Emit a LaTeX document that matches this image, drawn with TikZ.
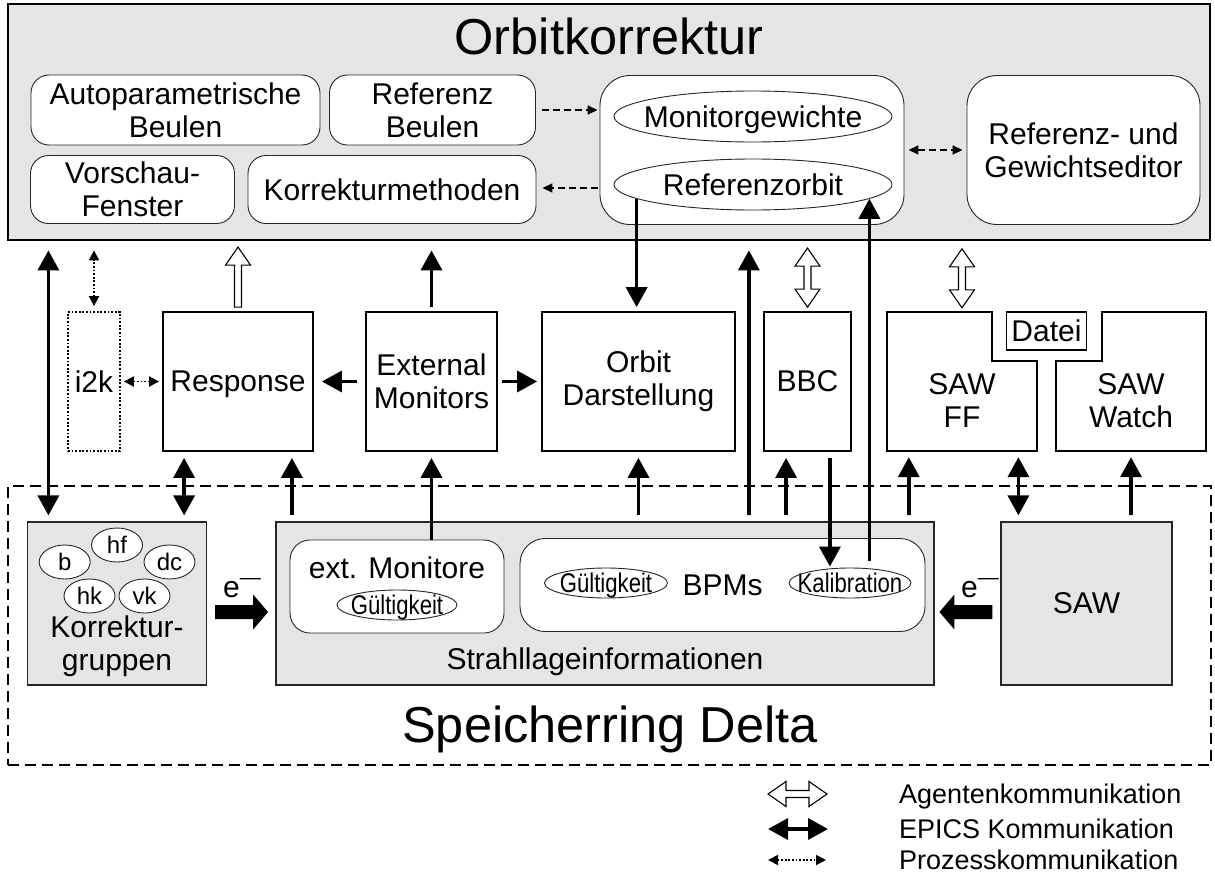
\documentclass[tikz,border=0pt]{standalone}
\usepackage{fontspec}
\setmainfont{Liberation Sans}
\newfontfamily\narrowsans[FakeStretch=0.82]{Liberation Sans}
\usetikzlibrary{arrows.meta,shapes.geometric}

\definecolor{panelgray}{gray}{0.9}

\tikzset{
    agentdouble/.pic={
        \draw[line width=1.1pt, fill=white] (0,0) -- (18,-12.5) -- (18,-3.5) -- (41,-3.5) -- (41,-12.5)
            -- (59,0) -- (41,12.5) -- (41,3.5) -- (18,3.5) -- (18,12.5) -- cycle;
    },
    agentsingle/.pic={
        \draw[line width=1.1pt, fill=white] (0,-3.5) -- (42,-3.5) -- (42,-12.5) -- (60,0)
            -- (42,12.5) -- (42,3.5) -- (0,3.5) -- cycle;
    },
    beam/.pic={
        \fill (0,-7) -- (38,-7) -- (38,-17.5) -- (53,0) -- (38,17.5) -- (38,7) -- (0,7) -- cycle;
    },
}

\begin{document}
\begin{tikzpicture}[x=1pt, y=-1pt,
        font=\fontsize{30}{33}\selectfont,
        every node/.style={inner sep=0pt, align=center},
        panel/.style={draw=black!85, line width=1.2pt, fill=panelgray},
        softbox/.style={draw=black!85, line width=0.9pt, fill=white, rounded corners=18pt},
        agentbox/.style={draw, line width=1.8pt, fill=white},
        oval/.style={draw=black!85, line width=0.9pt, fill=white, ellipse},
        small/.style={font=\fontsize{24}{26}\selectfont},
        narrow/.style={font=\narrowsans\fontsize{27}{29}\selectfont, text depth=0pt},
        legend/.style={anchor=base west, font=\fontsize{27}{30}\selectfont},
        epics/.style={line width=3.5pt, -{Triangle[width=21pt,length=20pt]}, shorten >=6pt, shorten <=6pt},
        epics both/.style={epics, {Triangle[width=21pt,length=20pt]}-{Triangle[width=21pt,length=20pt]}},
        prozess/.style={line width=1.8pt, dash pattern=on 1.8pt off 1.8pt,
            {Triangle[width=10pt,length=10pt]}-{Triangle[width=10pt,length=10pt]}, shorten >=5pt, shorten <=5pt},
        intern/.style={line width=1.5pt, dash pattern=on 7pt off 4pt, -{Triangle[width=9pt,length=10pt]}},
    ]
    \useasboundingbox (0,0) rectangle (1215,875);

    \node[panel, draw=black, line width=2.8pt, minimum width=1202pt, minimum height=236pt] (orbit) at (609,122) {};
    \node[font=\fontsize{50.5}{56}\selectfont, anchor=base] (orbittitle) at (609,55) {Orbitkorrektur};
    \node[softbox, minimum width=289pt, minimum height=70pt] (autobeulen) at (175.5,110) {Autoparametrische\\Beulen};
    \node[softbox, minimum width=206pt, minimum height=70pt] (refbeulen) at (432.5,110) {Referenz\\Beulen};
    \node[softbox, minimum width=204pt, minimum height=68pt] (vorschau) at (132.5,189.5) {Vorschau-\\Fenster};
    \node[softbox, minimum width=288pt, minimum height=68pt] (korrmeth) at (392,189.5) {Korrekturmethoden};
    \node[softbox, rounded corners=30pt, minimum width=304pt, minimum height=149pt] (daten) at (752,150) {};
    \node[oval, minimum width=278pt, minimum height=51pt, label={[text depth=0pt]center:Monitorgewichte}] (monw) at (753,116.5) {};
    \node[oval, minimum width=278pt, minimum height=51pt, label=center:Referenzorbit] (reforbit) at (753,184.5) {};
    \node[softbox, rounded corners=30pt, minimum width=233pt, minimum height=149pt] (editor) at (1083.5,150) {Referenz- und\\Gewichtseditor};

    \node[draw, line width=1.8pt, dash pattern=on 1.8pt off 1.8pt, minimum width=52pt, minimum height=139pt] (i2k) at (94,381.5) {i2k};
    \node[agentbox, text depth=0pt, minimum width=150pt, minimum height=139pt] (response) at (238,381.5) {Response};
    \node[agentbox, minimum width=131pt, minimum height=139pt] (extmon) at (431.5,381.5) {External\\Monitors};
    \node[agentbox, minimum width=193pt, minimum height=139pt] (orbitdar) at (638.5,381.5) {Orbit\\Darstellung};
    \node[agentbox, minimum width=87pt, minimum height=139pt] (bbc) at (807.5,381.5) {BBC};
    \node[minimum width=150pt, minimum height=139pt] (sawff) at (962,381.5) {};
    \node[minimum width=150pt, minimum height=139pt] (sawwatch) at (1131,381.5) {};
    \draw[line width=1.8pt, fill=white] (sawff.north west) -- ([xshift=-45pt]sawff.north east) -- ++(0,49) -- ++(45,0)
        -- (sawff.south east) -- (sawff.south west) -- cycle;
    \draw[line width=1.8pt, fill=white] ([yshift=-49pt]sawwatch.north west) -- ++(46,0) -- ++(0,-49)
        -- (sawwatch.north east) -- (sawwatch.south east) -- (sawwatch.south west) -- cycle;
    \node (sawfftext) at ([yshift=-19pt]sawff.center) {SAW\\FF};
    \node (sawwatchtext) at ([yshift=-19pt]sawwatch.center) {SAW\\Watch};
    \node[draw, line width=1.8pt, minimum width=80pt, minimum height=38pt] (datei) at (1046.5,331) {Datei};

    \node[draw, line width=1.6pt, dash pattern=on 11pt off 6pt, minimum width=1203pt, minimum height=279pt] (ring) at (609.5,625.5) {};
    \node[font=\fontsize{50.5}{56}\selectfont, anchor=base] (ringtitle) at (610,742) {Speicherring Delta};

    \node[panel, minimum width=179pt, minimum height=163pt] (korr) at (117,603.5) {};
    \node (korrtext) at (117,646.5) {Korrektur-\\gruppen};
    \foreach \name/\pos in {b/{64.7,562}, hf/{117,545}, dc/{169.5,562}, hk/{89.5,596}, vk/{144.5,596}}
        \node[oval, small, minimum width=51pt, minimum height=34pt] (\name) at (\pos) {\name};

    \node[panel, minimum width=658pt, minimum height=163pt] (strahl) at (605,603.5) {};
    \node (strahltext) at (605,662) {Strahllageinformationen};
    \node[softbox, rounded corners=20pt, minimum width=214pt, minimum height=93pt] (extm) at (397,586.5) {};
    \node (extmtext) at (397,568) {ext. Monitore};
    \node[oval, minimum width=120pt, minimum height=30pt, label={[narrow]center:Gültigkeit}] (gueltext) at (397,605) {};
    \node[softbox, rounded corners=25pt, minimum width=405pt, minimum height=93pt] (bpms) at (722.5,585) {BPMs};
    \node[oval, minimum width=123pt, minimum height=30pt, label={[narrow]center:Gültigkeit}] (gueltbpm) at (606,583) {};
    \node[oval, minimum width=122pt, minimum height=30pt, label={[narrow]center:Kalibration}] (kalib) at (850,583) {};

    \node[panel, minimum width=171pt, minimum height=163pt] (saw) at (1086.5,603.5) {SAW};

    \pic at ([xshift=8pt,yshift=-8.5pt]korr.east) {beam};
    \pic[rotate=180] at ([xshift=-8pt,yshift=-8.5pt]saw.west) {beam};
    \node[anchor=base west] (eleft) at (223,597) {e\raisebox{3pt}{\textsuperscript{—}}};
    \node[anchor=base west] (eright) at (961,597) {e\raisebox{3pt}{\textsuperscript{—}}};

    \draw[intern, shorten <=6pt, shorten >=2pt] (refbeulen.east) -- (refbeulen.east -| daten.west);
    \draw[intern, shorten <=2pt, shorten >=6pt] ([yshift=-38pt]daten.west) -- ([yshift=-38pt]daten.west -| korrmeth.east);
    \draw[intern, {Triangle[width=9pt,length=10pt]}-{Triangle[width=9pt,length=10pt]}, shorten <=4pt, shorten >=4pt] (daten.east) -- (editor.west);

    \draw[epics both, shorten >=9pt] ([xshift=21.5pt]korr.north west) -- ([xshift=21.5pt]korr.north west |- orbit.south);
    \draw[prozess, shorten >=9pt] (i2k.north) -- (i2k.north |- orbit.south);
    \draw[prozess, shorten <=3pt, shorten >=3pt] (i2k.east) -- (response.west);
    \pic[rotate=90] at ([yshift=4pt]response.north) {agentsingle};
    \draw[epics both] ([xshift=22pt]response.south west) -- ([xshift=22pt]response.south west |- korr.north);
    \draw[epics] ([xshift=-22pt]response.south east |- strahl.north) -- ([xshift=-22pt]response.south east);
    \draw[epics, shorten <=4pt, shorten >=9pt] (extmon.north) -- (extmon.north |- orbit.south);
    \draw[epics, shorten <=8pt, shorten >=8pt] (extmon.west) -- (response.east);
    \draw[epics, shorten <=4pt, shorten >=4pt] (extmon.east) -- (orbitdar.west);
    \draw[epics, shorten <=0pt] (extmon.south |- extm.north) -- (extmon.south);
    \draw[epics, shorten <=0pt, shorten >=4pt] (reforbit.187) -- (reforbit.187 |- orbitdar.north);
    \draw[epics] (orbitdar.south |- strahl.north) -- (orbitdar.south);
    \draw[epics, shorten >=9pt] ([xshift=13pt]orbitdar.south east |- strahl.north) -- ([xshift=13pt]orbitdar.south east |- orbit.south);
    \pic[rotate=90] at ([yshift=4pt]bbc.north) {agentdouble};
    \draw[epics] ([xshift=23pt]bbc.south west |- strahl.north) -- ([xshift=23pt]bbc.south west);
    \draw[epics, shorten >=1pt] ([xshift=-22pt]bbc.south east) -- ([xshift=-22pt]bbc.south east |- kalib.north);
    \draw[epics, shorten <=0pt, shorten >=0pt] ([yshift=7pt]reforbit.353 |- kalib.north) -- (reforbit.353);
    \draw[epics] ([xshift=22pt]sawff.south west |- strahl.north) -- ([xshift=22pt]sawff.south west);
    \pic[rotate=90] at ([yshift=4pt]sawff.north) {agentdouble};
    \draw[epics both] ([xshift=18pt]saw.north west |- sawff.south) -- ([xshift=18pt]saw.north west);
    \draw[epics] (sawwatch.south |- saw.north) -- (sawwatch.south);

    \node[legend] (legagent) at (899,803) {Agentenkommunikation};
    \node[legend] (legepics) at (899,838) {EPICS Kommunikation};
    \node[legend] (legprozess) at (899,869) {Prozesskommunikation};
    \pic at ([xshift=-131pt,yshift=9pt]legagent.base west) {agentdouble};
    \draw[epics both, shorten <=0pt, shorten >=0pt] ([xshift=-131pt,yshift=9pt]legepics.base west) -- ([xshift=-71pt,yshift=9pt]legepics.base west);
    \draw[prozess, shorten <=0pt, shorten >=0pt] ([xshift=-131pt,yshift=9pt]legprozess.base west) -- ([xshift=-73pt,yshift=9pt]legprozess.base west);
\end{tikzpicture}
\end{document}
